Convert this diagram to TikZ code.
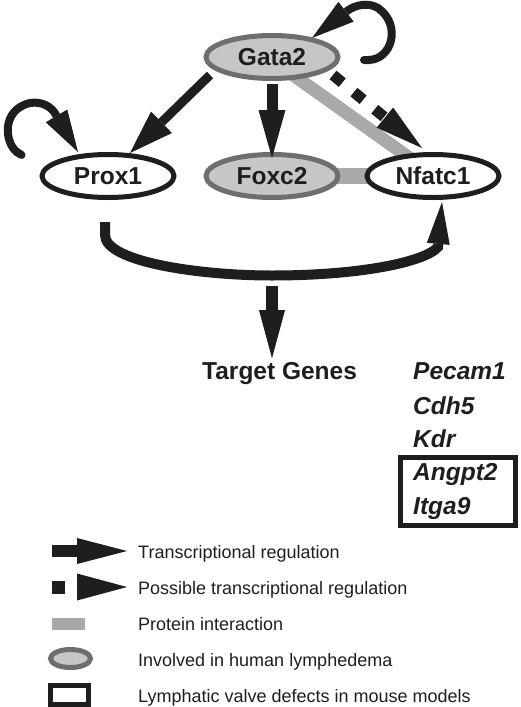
\documentclass[tikz,border=0pt]{standalone}
\usepackage{fontspec}
\setmainfont{Liberation Sans}
\usetikzlibrary{arrows.meta,shapes.geometric,calc}
\definecolor{ink}{HTML}{1E1E1E}
\definecolor{lymfill}{HTML}{C6C6C6}
\definecolor{lymedge}{HTML}{6E6E6E}
\definecolor{protgray}{HTML}{A9A9A9}
\begin{document}
\begin{tikzpicture}[x=1pt,y=-1pt,
  gene/.style={ellipse, draw=ink, line width=5pt, fill=white, minimum width=132pt, minimum height=43pt, inner sep=0pt, font=\fontsize{24.5}{28}\selectfont\bfseries, text=ink},
  lymph/.style={gene, draw=lymedge, fill=lymfill},
  treg/.style={draw=ink, line width=#1},
  big/.style 2 args={-{Triangle[length=#1,width=#2,line width=0pt]}},
  loopy/.style 2 args={{Round Cap[]}-{Triangle[length=#1,width=#2,line width=0pt]}},
  prot/.style={draw=protgray, line width=#1},
  target/.style={anchor=base west, font=\fontsize{24.5}{28}\selectfont\bfseries, text=ink, inner sep=0pt},
  tgene/.style={target, font=\fontsize{24.5}{28}\selectfont\bfseries\itshape},
  legtext/.style={anchor=base west, font=\fontsize{18}{21}\selectfont, text=ink, inner sep=0pt}
]
\useasboundingbox (0,0) rectangle (520,707);
\clip (0,0) rectangle (520,707);

% protein interaction bands (behind nodes)
\coordinate (gc) at (272,57);
\coordinate (nc) at (433,176);
\coordinate (fc) at (272,176);
\draw[prot=13pt] ($(gc)+(10,10)$) -- ($(nc)+(-8,-7)$);
\draw[prot=16pt] (fc) -- (nc);

% nodes
\node[lymph] (g) at (gc) {Gata2};
\node[gene]  (p) at (108,176) {Prox1};
\node[lymph] (f) at (fc) {Foxc2};
\node[gene]  (n) at (nc) {Nfatc1};

% transcriptional regulation
\draw[treg=9pt, big={44pt}{30pt}] ($(g)+(-62,18)$) -- ($(p)+(22,-23)$);
\draw[treg=11pt, big={48pt}{27pt}] ($(g)+(0,27)$) -- ($(f)+(0,-18)$);
\draw[treg=11pt, big={48pt}{26pt}, dash pattern=on 12pt off 15pt] ($(g)+(61,18)$) -- ($(n)+(-11,-28)$);

% self loops
\draw[treg=8pt, loopy={42pt}{25pt}] ($(p)+(-83,-19)$) .. controls (5,145) and (0,110) .. (30,103)
  .. controls (42,101) and (52,107) .. (56,115) -- ($(p)+(-30,-24)$);
\draw[treg=8pt, loopy={43pt}{25pt}] ($(g)+(88,3)$) .. controls (392,60) and (402,25) .. (378,8)
  .. controls (368,2) and (355,5) .. (347,11) -- ($(g)+(40,-19)$);

% big curve from Prox1 to Nfatc1
\draw[treg=10pt, big={42pt}{23pt}] ($(p)+(-3,46)$) -- (105,235) .. controls (105,262) and (200,275.5) .. (272,275.5)
  .. controls (360,275.5) and (425,262) .. (438,247) -- ($(n)+(9,26)$);

% target genes
\node[target] (tg) at (202,379.5) {Target Genes};
\coordinate (ds) at (272,286);
\draw[treg=12pt, big={48pt}{26pt}] (ds) -- ($(ds |- tg.north)+(0,-4)$);

\node[tgene] (g1) at (413,379.5) {Pecam1};
\node[tgene] (g2) at (413,414) {Cdh5};
\node[tgene] (g3) at (413,447.5) {Kdr};
\node[tgene] (g4) at (413,480.5) {Angpt2};
\node[tgene] (g5) at (413,514.5) {Itga9};
\draw[ink, line width=5pt] (400.5,457.5) rectangle (515.5,525.5);

% legend
\fill[ink] (52,545) rectangle (80,557);
\fill[ink] (77,538) -- (127,551) -- (77,564) -- cycle;
\node[legtext] (l1) at (138,558.5) {Transcriptional regulation};

\fill[ink] (52,581) rectangle (65,593.5);
\fill[ink] (77,573.5) -- (127,587) -- (77,600.5) -- cycle;
\node[legtext] (l2) at (138,594.5) {Possible transcriptional regulation};

\fill[protgray] (52,618) rectangle (85,630);
\node[legtext] (l3) at (138,630.5) {Protein interaction};

\node[ellipse, draw=lymedge, fill=lymfill, line width=5pt, minimum width=40pt, minimum height=18pt, inner sep=0pt] (l4s) at (70.5,658.5) {};
\node[legtext] (l4) at (138,666.5) {Involved in human lymphedema};

\draw[ink, line width=5pt] (50.5,685.5) rectangle (88.5,704.5);
\node[legtext] (l5) at (138,702.5) {Lymphatic valve defects in mouse models};
\end{tikzpicture}
\end{document}
